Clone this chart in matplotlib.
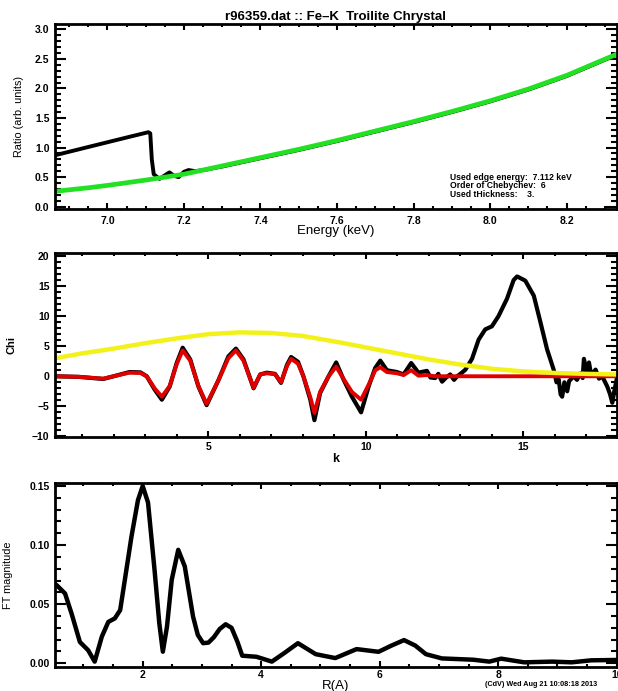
import matplotlib
matplotlib.use("Agg")
import matplotlib.pyplot as plt
from matplotlib.ticker import MultipleLocator, FuncFormatter

plt.rcParams['font.family'] = ['Liberation Sans', 'DejaVu Sans']

# ---------------- data: panel 1 (ratio vs energy) ----------------
energy_fit = [6.863, 6.95, 7.0, 7.1, 7.2, 7.3, 7.4, 7.5, 7.6, 7.7, 7.8, 7.9, 8.0, 8.1, 8.2, 8.331]
ratio_fit = [0.26, 0.32, 0.36, 0.45, 0.55, 0.69, 0.83, 0.97, 1.12, 1.28, 1.44, 1.61, 1.79, 1.99, 2.22, 2.58]

energy_data = [6.863, 6.95, 7.05, 7.107, 7.112, 7.116, 7.121, 7.136, 7.150, 7.162, 7.175, 7.186,
               7.200, 7.212, 7.230, 7.26, 7.3, 7.4, 7.5, 7.6, 7.7, 7.8, 7.9, 8.0, 8.1, 8.2, 8.331]
ratio_data = [0.87, 1.01, 1.17, 1.26, 1.24, 0.80, 0.55, 0.47, 0.53, 0.58, 0.52, 0.50,
              0.59, 0.62, 0.60, 0.63, 0.68, 0.82, 0.96, 1.11, 1.27, 1.43, 1.60, 1.78, 1.98, 2.21, 2.57]

info_lines = ["Used edge energy:  7.112 keV", "Order of Chebychev:  6", "Used tHickness:    3."]

# ---------------- data: panel 2 (chi vs k) ----------------
k_data = [0.14, 0.9, 1.67, 2.0, 2.5, 2.85, 3.05, 3.3, 3.53, 3.78, 4.0, 4.19, 4.43, 4.69, 4.95,
          5.33, 5.64, 5.88, 6.12, 6.44, 6.65, 6.86, 7.12, 7.31, 7.5, 7.63, 7.85, 8.02, 8.24,
          8.37, 8.55, 8.82, 9.06, 9.29, 9.56, 9.85, 10.09, 10.3, 10.46, 10.67, 10.99, 11.2,
          11.44, 11.67, 11.94, 12.05, 12.2, 12.3, 12.42, 12.55, 12.68, 12.8, 12.9, 13.05,
          13.16, 13.37, 13.58, 13.79, 14.0, 14.21, 14.48, 14.69, 14.8, 15.06, 15.33, 15.54,
          15.75, 15.96, 16.05, 16.12, 16.18, 16.23, 16.3, 16.39, 16.45, 16.6, 16.7, 16.81,
          16.88, 16.92, 17.0, 17.08, 17.15, 17.29, 17.4, 17.5, 17.66, 17.75, 17.82, 17.9, 17.96]
chi_data = [0.0, -0.1, -0.45, 0.0, 0.7, 0.65, 0.0, -2.2, -3.9, -1.7, 2.2, 4.75, 2.8, -1.7, -4.8,
            -0.6, 3.3, 4.6, 2.8, -2.0, 0.3, 0.6, 0.4, -1.1, 1.9, 3.2, 2.4, 0.0, -3.9,
            -7.3, -2.8, 0.0, 2.3, -0.5, -3.4, -6.0, -1.7, 1.4, 2.6, 1.0, 0.7, 0.3,
            2.2, 0.6, 0.9, -0.2, -0.3, 0.4, -0.9, -0.2, 0.3, -0.6, 0.0, 0.6,
            1.1, 2.9, 6.1, 7.8, 8.3, 10.0, 12.9, 16.0, 16.6, 15.9, 13.4, 9.0,
            4.5, 1.1, -1.0, -0.5, -3.0, -3.4, -1.0, -2.5, -0.8, 0.0, -0.6, 0.5,
            -0.3, 2.9, 0.8, 2.3, 0.2, 1.1, -0.4, 0.0, -1.7, -3.0, -4.4, -2.0, -0.5]

k_fit = [0.14, 0.9, 1.67, 2.0, 2.5, 2.85, 3.05, 3.3, 3.53, 3.78, 4.0, 4.19, 4.43, 4.69, 4.95,
         5.33, 5.64, 5.88, 6.12, 6.44, 6.65, 6.86, 7.12, 7.31, 7.5, 7.63, 7.85, 8.02, 8.24,
         8.37, 8.55, 8.82, 9.06, 9.29, 9.56, 9.85, 10.09, 10.3, 10.46, 10.67, 10.99, 11.2,
         11.44, 11.67, 11.94, 12.2, 17.96]
chi_fit = [0.0, -0.1, -0.4, 0.0, 0.6, 0.55, 0.0, -2.0, -3.4, -1.6, 2.0, 4.3, 2.6, -1.6, -4.6,
           -0.6, 3.0, 4.3, 2.6, -1.9, 0.3, 0.5, 0.35, -1.0, 1.7, 2.9, 2.1, 0.0, -3.5,
           -6.1, -2.6, 0.0, 1.6, -0.4, -2.6, -3.9, -1.4, 1.0, 1.5, 0.7, 0.5, 0.2,
           1.0, 0.1, 0.2, 0.0, 0.0]

k_window = [0.14, 1.0, 2.0, 3.0, 4.0, 5.0, 6.0, 7.0, 8.0, 9.0, 10.0, 11.0, 12.0, 13.0, 14.0,
            15.0, 16.0, 17.0, 17.96]
window = [3.0, 3.8, 4.6, 5.5, 6.3, 7.0, 7.3, 7.2, 6.7, 5.8, 4.8, 3.8, 2.8, 1.95, 1.25,
          0.8, 0.55, 0.4, 0.3]

# ---------------- data: panel 3 (FT magnitude vs R) ----------------
r_vals = [0.52, 0.55, 0.69, 0.80, 0.94, 1.08, 1.19, 1.31, 1.42, 1.53, 1.62, 1.70, 1.81, 1.92,
          2.0, 2.09, 2.20, 2.28, 2.34, 2.41, 2.49, 2.60, 2.71, 2.85, 2.93, 3.02, 3.11, 3.2,
          3.3, 3.4, 3.5, 3.6, 3.68, 3.92, 4.18, 4.4, 4.62, 4.92, 5.25, 5.61, 5.98, 6.2, 6.41,
          6.6, 6.78, 7.05, 7.58, 7.85, 8.05, 8.44, 8.91, 9.24, 9.57, 10.0]
ft_mag = [0.067, 0.066, 0.059, 0.042, 0.018, 0.011, 0.0014, 0.0225, 0.035, 0.038, 0.045, 0.071,
          0.107, 0.138, 0.150, 0.136, 0.079, 0.034, 0.0098, 0.031, 0.0706, 0.096, 0.082, 0.0395,
          0.024, 0.017, 0.0175, 0.022, 0.029, 0.033, 0.030, 0.018, 0.0064, 0.0055, 0.0014,
          0.009, 0.017, 0.0077, 0.0044, 0.012, 0.0097, 0.015, 0.0196, 0.015, 0.0077, 0.0041,
          0.003, 0.0014, 0.0039, 0.0008, 0.0014, 0.0008, 0.0025, 0.0028]

footer = "(CdV) Wed Aug 21 10:08:18 2013"

# ---------------- figure ----------------
W, H = 618, 691
fig = plt.figure(figsize=(W / 100, H / 100), dpi=100)


def px_axes(left, top, right, bottom):
    return fig.add_axes([left / W, (H - bottom) / H, (right - left) / W, (bottom - top) / H])


def style(ax, xmaj, xmin, ymaj, ymin, xpad):
    for s in ax.spines.values():
        s.set_linewidth(2.0)
    ax.xaxis.set_major_locator(MultipleLocator(xmaj))
    ax.xaxis.set_minor_locator(MultipleLocator(xmin))
    ax.yaxis.set_major_locator(MultipleLocator(ymaj))
    ax.yaxis.set_minor_locator(MultipleLocator(ymin))
    ax.tick_params(which='both', direction='in', top=True, right=True, width=1.5,
                   labelsize=7.5)
    ax.tick_params(axis='x', which='major', length=4, pad=xpad)
    ax.tick_params(axis='x', which='minor', length=2.5)
    ax.tick_params(axis='y', which='major', length=8, pad=4)
    ax.tick_params(axis='y', which='minor', length=4)


def bold_ticks(ax):
    for lab in ax.get_xticklabels() + ax.get_yticklabels():
        lab.set_fontweight('bold')


xlab_font = dict(fontsize=9.5)
ylab_font = dict(fontsize=7.8)

# Panel 1
ax1 = px_axes(55, 24.3, 616.7, 209.3)
ax1.plot(energy_data, ratio_data, color='black', lw=2.8, solid_joinstyle='round')
ax1.plot(energy_fit, ratio_fit, color='#22e022', lw=3.4, solid_joinstyle='round')
ax1.set_xlim(6.863, 8.331)
ax1.set_ylim(-0.044, 3.085)
style(ax1, 0.2, 0.05, 0.5, 0.1, 4.5)
ax1.xaxis.set_major_formatter(FuncFormatter(lambda v, p: f"{v:.1f}"))
ax1.yaxis.set_major_formatter(FuncFormatter(lambda v, p: f"{v:.1f}"))
bold_ticks(ax1)
ax1.set_title("r96359.dat :: Fe\u2013K  Troilite Chrystal", fontsize=9.5, fontweight='bold', pad=3)
ax1.set_xlabel("Energy (keV)", **xlab_font)
ax1.set_ylabel("Ratio (arb. units)", **ylab_font)
ax1.xaxis.set_label_coords(0.5, -0.085)
ax1.yaxis.set_label_coords(-0.055, 0.5)
for line, yy in zip(info_lines, [0.172, 0.127, 0.082]):
    ax1.text(0.703, yy, line, transform=ax1.transAxes, fontsize=6.2, fontweight='bold',
             va='center', ha='left')

# Panel 2
ax2 = px_axes(55, 253.3, 616.7, 437.3)
ax2.plot(k_data, chi_data, color='black', lw=3.0, solid_joinstyle='round')
ax2.plot(k_fit, chi_fit, color='#e00000', lw=2.8, solid_joinstyle='round')
ax2.plot(k_window, window, color='#f2f21a', lw=3.2, solid_joinstyle='round')
ax2.set_xlim(0.14, 17.96)
ax2.set_ylim(-10.15, 20.45)
style(ax2, 5, 1, 5, 1, 3.5)
ax2.yaxis.set_major_formatter(FuncFormatter(lambda v, p: f"{v:.0f}".replace('-', '\u2212')))
bold_ticks(ax2)
ax2.set_xlabel("k", fontsize=9, fontweight='bold')
ax2.set_ylabel("Chi", fontsize=8, fontweight='bold')
ax2.xaxis.set_label_coords(0.5, -0.085)
ax2.yaxis.set_label_coords(-0.068, 0.5)

# Panel 3
ax3 = px_axes(55, 483.3, 616.7, 666.7)
ax3.plot(r_vals, ft_mag, color='black', lw=3.2, solid_joinstyle='round')
ax3.set_xlim(0.52, 10.0)
ax3.set_ylim(-0.0029, 0.1523)
style(ax3, 2, 0.5, 0.05, 0.01, 2.5)
ax3.xaxis.set_major_formatter(FuncFormatter(lambda v, p: f"{v:.0f}"))
ax3.yaxis.set_major_formatter(FuncFormatter(lambda v, p: f"{v:.2f}"))
bold_ticks(ax3)
ax3.set_xlabel("R(A)", **xlab_font)
ax3.set_ylabel("FT magnitude", **ylab_font)
ax3.xaxis.set_label_coords(0.5, -0.07)
ax3.yaxis.set_label_coords(-0.075, 0.5)

fig.text(485 / W, 1 - 685 / H, footer, fontsize=5.2, fontweight='bold', va='center', ha='left')

fig.savefig("out.png", dpi=100)
